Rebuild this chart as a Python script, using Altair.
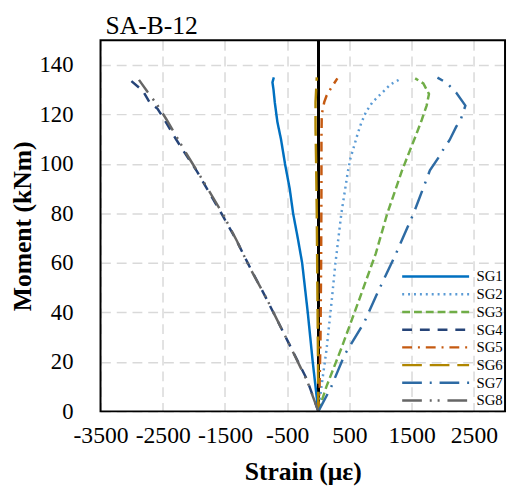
import altair as alt
import pandas as pd

title_text = ["SA-B-12"]
series = ["SG1", "SG2", "SG3", "SG4", "SG5", "SG6", "SG7", "SG8"]
colors = ["#0070C0", "#5B9BD5", "#70AD47", "#264478", "#C55A11", "#B08600", "#2E6BA4", "#666666"]
dashes = [[1, 0], [2, 4], [8, 4], [10, 8], [10, 6, 2, 6], [20, 8], [20, 8, 2, 8], [20, 8, 2, 6, 2, 8]]

x_ticks = [-3500, -2500, -1500, -500, 500, 1500, 2500]
y_ticks = [0, 20, 40, 60, 80, 100, 120, 140]

sg1_m = [0, 10, 20, 30, 40, 50, 60, 70, 80, 90, 100, 110, 117, 125, 130, 133, 135]
sg1_v = [0, -45, -90, -130, -170, -215, -260, -330, -405, -460, -535, -600, -658, -700, -720, -737, -715]

sg2_m = [0, 10, 25, 45, 60, 80, 97, 102.4, 107.7, 112.3, 116.3, 121, 125, 127.6, 132.2, 134.6]
sg2_v = [0, 50, 132, 216, 275, 370, 475, 517, 580, 633, 686, 765, 870, 976, 1161, 1335]

sg3_m = [0, 10, 25.5, 45.4, 63.9, 79.9, 97, 102.4, 110.8, 117.7, 123.6, 128.3, 132.6, 134.6]
sg3_v = [0, 130, 370, 660, 924, 1107, 1340, 1423, 1556, 1660, 1740, 1778, 1687, 1556]

sg4_m = [0, 12.9, 27.5, 46, 58.6, 69.2, 79.9, 97, 105, 110.3, 117, 122.3, 125, 129.6, 133.6]
sg4_v = [0, -183, -474, -843, -1107, -1317, -1555, -1950, -2160, -2294, -2452, -2583, -2714, -2820, -3008]

sg5_m = [0, 10, 30, 60, 90, 110, 120, 125, 127.6, 131, 134.6]
sg5_v = [0, 20, 35, 45, 50, 50, 55, 95, 132, 212, 306]

sg6_m = [0, 20, 50, 80, 100, 115, 125, 130, 135]
sg6_v = [0, -5, -15, -25, -35, -45, -45, -35, -25]

sg7_m = [0, 9.5, 22.8, 36, 49.3, 63.3, 79.9, 97.4, 102.4, 105.7, 109.7, 115, 118.3, 123.6, 128.9, 132.9, 134.9]
sg7_v = [0, 200, 421, 738, 976, 1240, 1529, 1793, 1925, 2004, 2110, 2214, 2293, 2363, 2214, 2056, 1914]

sg8_m = [0, 12, 27, 46, 58, 69, 80, 96, 105, 112, 118, 124, 129, 134]
sg8_v = [0, -175, -465, -840, -1100, -1310, -1540, -1920, -2140, -2300, -2440, -2590, -2740, -2882]

all_m = [sg1_m, sg2_m, sg3_m, sg4_m, sg5_m, sg6_m, sg7_m, sg8_m]
all_v = [sg1_v, sg2_v, sg3_v, sg4_v, sg5_v, sg6_v, sg7_v, sg8_v]

rows = []
for name, ms, vs in zip(series, all_m, all_v):
    for i, (m, v) in enumerate(zip(ms, vs)):
        rows.append({"series": name, "idx": i, "strain": v, "moment": m})
df = pd.DataFrame(rows)

FONT = "Liberation Serif"
W, H = 411, 377

x_scale = alt.Scale(domain=[-3500, 3000], nice=False, zero=False)
y_scale = alt.Scale(domain=[0, 150], nice=False)

leg = alt.Legend(
    title=None, orient="none", legendX=305, legendY=231,
    symbolType="stroke", symbolSize=4624, symbolStrokeWidth=2.5,
    clipHeight=18, rowPadding=0, padding=0,
    labelFont=FONT, labelFontSize=15, labelOffset=6, labelColor="black",
)

zero_rule = alt.Chart(df).mark_rule(color="black", strokeWidth=1.5).encode(
    x=alt.datum(0, scale=x_scale)
)

hyphen_expr = "datum.value < 0 ? '-' + abs(datum.value) : '' + datum.value"

lines = alt.Chart(df).mark_line(strokeWidth=2.5).encode(
    x=alt.X("strain:Q", scale=x_scale,
            axis=alt.Axis(values=x_ticks, title="Strain (με)", labelExpr=hyphen_expr,
                          labelOverlap=False, labelFlush=False, labelFontSize=24,
                          labelPadding=13, titlePadding=11)),
    y=alt.Y("moment:Q", scale=y_scale,
            axis=alt.Axis(values=y_ticks, title="Moment (kNm)", format="d",
                          labelOverlap=False, labelFlush=False,
                          labelPadding=28, titlePadding=4)),
    color=alt.Color("series:N", scale=alt.Scale(domain=series, range=colors), legend=leg),
    strokeDash=alt.StrokeDash("series:N", scale=alt.Scale(domain=series, range=dashes), legend=leg),
    order=alt.Order("idx:Q"),
)

frame = alt.Chart(pd.DataFrame({"f": [0]})).mark_rect(
    stroke="black", strokeWidth=2, fillOpacity=0
).encode(
    x=alt.value(0), x2=alt.value(W), y=alt.value(0), y2=alt.value(H)
)

title = alt.Chart(pd.DataFrame({"t": title_text})).mark_text(
    align="left", baseline="alphabetic", fontSize=26, font=FONT, color="black"
).encode(
    x=alt.value(5), y=alt.value(-6), text="t:N"
)

chart = alt.layer(zero_rule, lines, frame, title).properties(
    width=W, height=H,
    autosize=alt.AutoSizeParams(type="none"),
    padding={"left": 94, "top": 29, "right": 2, "bottom": 72},
).configure_view(
    strokeWidth=0
).configure_axis(
    domain=False, ticks=False, tickSize=0,
    grid=True, gridColor="#D9D9D9", gridDash=[10, 6], gridWidth=1.5,
    labelFont=FONT, labelFontSize=23, labelColor="black",
    titleFont=FONT, titleFontSize=26, titleFontWeight="bold", titleColor="black",
)

chart.save("out.html", embed_options={"renderer": "svg", "actions": False})
